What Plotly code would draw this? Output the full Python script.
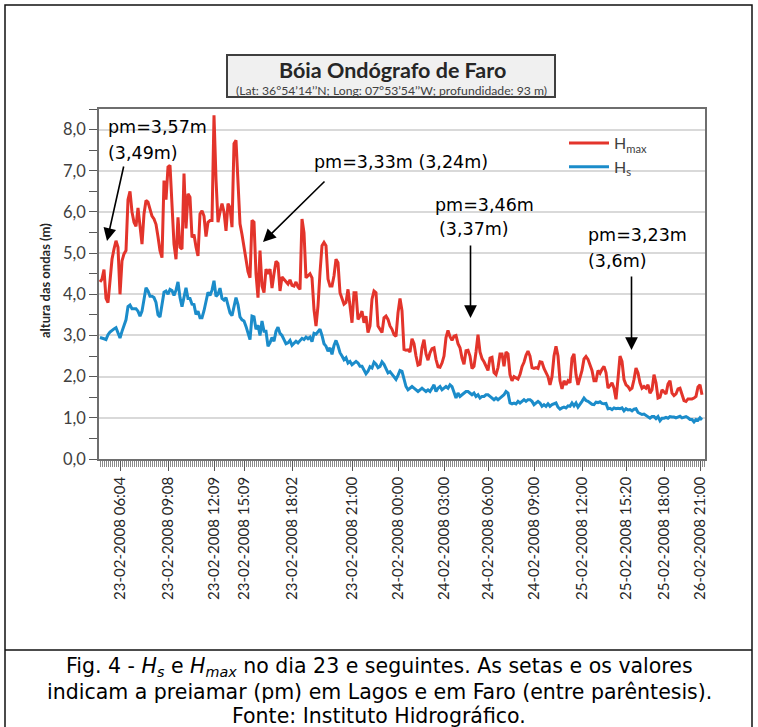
import plotly.graph_objects as go

# ---------------- data ----------------
hmax = [
    4.3, 4.37, 4.6, 3.9, 3.8, 4.4, 4.85, 5.1, 5.3, 5.14,
    4.0, 4.81, 4.98, 5.06, 6.3, 6.5, 6.0, 5.75, 5.65, 6.1,
    5.65, 5.22, 5.95, 6.28, 6.24, 6.03, 5.9, 5.83, 5.7, 5.4,
    5.06, 4.89, 6.76, 6.3, 7.09, 7.13, 6.2, 5.22, 4.85, 5.87,
    5.14, 5.1, 6.93, 5.6, 6.44, 6.36, 5.38, 5.45, 5.15, 4.93,
    5.95, 6.03, 5.9, 5.4, 5.75, 5.79, 5.79, 8.35, 6.8, 5.75,
    6.0, 6.2, 6.0, 5.54, 6.2, 6.11, 5.63, 7.66, 7.74, 6.52,
    5.71, 5.45, 5.15, 4.85,
    4.55, 4.4, 5.8, 5.75, 4.5, 3.92, 5.06, 4.2, 4.04, 4.61,
    4.53, 4.61, 4.15, 4.5, 4.8, 4.75, 4.08, 4.42, 4.36, 4.3,
    4.25, 4.35, 4.22, 4.2, 4.3, 4.18, 4.12, 5.83, 5.5, 4.4,
    4.45, 4.5, 4.4, 3.63, 3.23, 3.72, 4.53, 5.18, 5.26, 5.18,
    4.37, 4.2, 4.2, 4.45, 4.85, 4.77, 4.04, 3.88, 3.76, 3.8,
    4.12, 3.72, 3.31, 4.04, 4.04, 3.39, 3.47, 3.59, 3.31, 3.47,
    3.07, 3.23, 3.88, 4.08, 4.04, 3.23, 3.15, 3.07, 3.43, 3.47,
    3.39, 3.23, 3.15, 3.02, 2.98, 3.55,
    3.9, 3.6, 2.66, 2.64, 2.65, 2.6, 2.92, 2.8, 2.5, 2.28,
    2.3, 2.7, 2.9, 2.55, 2.4, 2.58, 2.68, 2.7, 2.42, 2.24,
    2.23, 2.33, 2.5, 2.95, 3.12, 2.97, 2.88, 2.98, 3.0, 2.8,
    2.7, 2.45, 2.3, 2.63, 2.64, 2.5, 2.2, 2.25, 2.6, 3.02,
    2.6, 2.44, 2.36, 2.25, 2.15, 2.45, 2.47, 2.1, 2.05, 2.22,
    2.55, 2.55, 2.25, 2.6, 2.55, 2.05, 1.9, 2.0, 1.96, 1.94,
    2.05, 2.24, 2.35, 2.52, 2.62, 2.5, 2.22, 2.2, 2.22, 2.2,
    2.36, 2.35, 2.2, 2.08, 2.0, 1.8, 2.0, 2.5, 2.74,
    2.5, 1.9, 1.7, 1.9, 1.8, 1.9, 1.85,
    2.45, 2.55, 2.05, 1.8, 1.95, 2.15, 2.43, 2.49, 2.42, 2.27,
    2.15, 1.9, 1.9, 2.15, 2.08, 2.18, 2.25, 2.1, 1.72, 1.78,
    1.85, 1.72, 1.45, 1.95, 2.5, 2.37, 1.93, 1.8, 1.76, 1.68,
    1.72, 1.93, 2.21, 2.09, 1.85, 1.72, 1.76, 1.72, 1.8, 1.6,
    1.68, 2.05, 1.85, 1.48, 1.5, 1.68, 1.62, 1.58, 1.82, 1.9,
    1.6, 1.54, 1.58, 1.7, 1.72, 1.55, 1.42, 1.4, 1.46, 1.46,
    1.46, 1.48, 1.52, 1.75, 1.8, 1.56,
]

hs = [
    2.95, 2.94, 2.92, 2.9, 3.02, 3.08, 3.13, 3.16, 3.19, 3.07,
    2.94, 3.1, 3.22, 3.38, 3.7, 3.74, 3.65, 3.65, 3.65, 3.59,
    3.47, 3.59, 3.92, 4.16, 4.08, 3.95, 3.95, 3.92, 3.8, 3.5,
    3.45, 3.8, 4.05, 4.08, 4.0, 4.12, 4.09, 3.97, 4.1, 4.3,
    3.92, 3.7, 3.95, 4.16, 3.9, 3.9, 3.76, 3.75, 3.51, 3.59,
    3.43, 3.43, 3.6, 3.85, 4.05, 3.97, 4.1, 4.33, 3.95, 4.0,
    4.15, 3.9, 3.86, 3.92, 3.75, 3.55, 3.48, 3.7, 3.92, 3.75,
    3.45, 3.38, 3.35, 3.22,
    3.07, 2.9, 3.47, 3.45, 3.15, 3.25, 3.0, 3.35, 3.1, 3.1,
    2.74, 2.82, 2.95, 2.86, 3.1, 3.2, 3.05, 3.0, 2.9, 2.8,
    2.82, 2.88, 2.76, 2.8, 2.86, 2.82, 2.88, 2.93, 2.9, 2.96,
    2.92, 2.96, 2.85, 3.05, 3.03, 3.1, 3.15, 3.0, 2.8, 2.74,
    2.62, 2.7, 2.54, 2.76, 2.88, 2.75, 2.58, 2.5, 2.41, 2.46,
    2.33, 2.37, 2.29, 2.33, 2.37, 2.33, 2.25, 2.25, 2.15, 2.07,
    2.13, 2.24, 2.21, 2.35, 2.3, 2.22, 2.25, 2.36, 2.3, 2.17,
    2.09, 2.12, 2.05, 1.98, 1.93, 2.03,
    2.15, 2.13, 1.93, 1.76, 1.68, 1.72, 1.76, 1.72, 1.68, 1.64,
    1.68, 1.72, 1.68, 1.64, 1.68, 1.64, 1.72, 1.8, 1.64, 1.72,
    1.76, 1.68, 1.72, 1.76, 1.72, 1.8, 1.76, 1.6, 1.48, 1.6,
    1.52, 1.56, 1.6, 1.64, 1.64, 1.6, 1.56, 1.6, 1.52, 1.56,
    1.48, 1.52, 1.52, 1.56, 1.56, 1.52, 1.48, 1.44, 1.48, 1.44,
    1.48, 1.52, 1.56, 1.64, 1.6, 1.36, 1.34, 1.36, 1.34, 1.4,
    1.36, 1.4, 1.44, 1.4, 1.44, 1.44, 1.4, 1.32, 1.36, 1.4,
    1.36, 1.28, 1.32, 1.28, 1.34, 1.28, 1.32, 1.34, 1.36,
    1.26, 1.21, 1.24, 1.26, 1.24, 1.29, 1.28,
    1.36, 1.29, 1.36, 1.26, 1.32, 1.4, 1.48, 1.42, 1.4, 1.36,
    1.33, 1.32, 1.38, 1.37, 1.39, 1.35, 1.34, 1.35, 1.22, 1.23,
    1.2, 1.24, 1.22, 1.23, 1.22, 1.24, 1.17, 1.22, 1.19, 1.2,
    1.17, 1.21, 1.22, 1.13, 1.1, 1.08, 1.09, 1.05, 1.03, 0.99,
    1.03, 1.03, 0.98, 1.03, 0.93, 0.99, 0.99, 1.01, 0.99, 1.03,
    1.02, 1.02, 1.0, 1.03, 1.04, 1.0, 1.02, 1.03, 1.0, 0.96,
    0.96, 0.9, 0.96, 0.94, 1.0, 0.95,
]

sample_index = list(range(len(hmax)))

tick_idx = [10, 34, 57, 72, 96, 126, 149, 172, 194, 217, 241, 263, 282, 300]
tick_labels = [
    "23-02-2008 06:04", "23-02-2008 09:08", "23-02-2008 12:09", "23-02-2008 15:09",
    "23-02-2008 18:02", "23-02-2008 21:00", "24-02-2008 00:00", "24-02-2008 03:00",
    "24-02-2008 06:00", "24-02-2008 09:00", "25-02-2008 12:00", "25-02-2008 15:20",
    "25-02-2008 18:00", "26-02-2008 21:00",
]
y_ticks = [0, 1, 2, 3, 4, 5, 6, 7, 8]
series_names = ["H<sub>max</sub>", "H<sub>s</sub>"]

pm_notes = [
    ("pm=3,57m", "(3,49m)"),
    ("pm=3,33m (3,24m)", ""),
    ("pm=3,46m", "(3,37m)"),
    ("pm=3,23m", "(3,6m)"),
]

# ---------------- layout geometry ----------------
W, H = 758, 727
L, R, T, B = 99, 705, 109, 459   # plot area in pixels


def px(x):
    return (x - L) / (R - L)


def py(y):
    return (B - y) / (B - T)


def dx(x):      # pixel -> sample index
    return (x - L) / 2.0 - 0.5


def dy(y):      # pixel -> metres
    return (B - y) / (B - T) * 8.5


RED = "#e3342b"
BLUE = "#1b8cca"
TXT = "#262626"
BASE_FONT = "Lato"

fig = go.Figure()
fig.add_trace(go.Scatter(x=sample_index, y=hmax, mode="lines", name=series_names[0],
                         line=dict(color=RED, width=3)))
fig.add_trace(go.Scatter(x=sample_index, y=hs, mode="lines", name=series_names[1],
                         line=dict(color=BLUE, width=3)))

fig.update_layout(
    width=W, height=H,
    margin=dict(l=L, r=W - R, t=T, b=H - B, autoexpand=False),
    paper_bgcolor="white", plot_bgcolor="white",
    separators=",.",
    font=dict(family=BASE_FONT, color=TXT),
    showlegend=True,
    legend=dict(x=px(564), y=py(126), xanchor="left", yanchor="top",
                bgcolor="rgba(0,0,0,0)", font=dict(family=BASE_FONT, size=16, color="#404040"),
                tracegroupgap=0, itemwidth=40),
)

fig.update_xaxes(
    range=[-0.5, len(hmax) + 0.5],
    tickmode="array", tickvals=tick_idx, ticktext=tick_labels,
    tickangle=-90, ticks="outside", ticklen=10, tickwidth=1, tickcolor="#595959",
    tickfont=dict(family=BASE_FONT, size=15, color=TXT),
    showgrid=False, zeroline=False,
    showline=True, linecolor="#6e6e6e", linewidth=1.5, mirror=True,
    minor=dict(tickmode="linear", tick0=0, dtick=1, ticks="outside", ticklen=6,
               tickwidth=1, tickcolor="#8a8a8a", showgrid=False),
)
fig.update_yaxes(
    range=[0, 8.5],
    tickmode="array", tickvals=y_ticks, tickformat=".1f",
    ticks="outside", ticklen=8, tickwidth=1.2, tickcolor="#595959",
    tickfont=dict(family=BASE_FONT, size=16.5, color="#404040"),
    showgrid=True, gridcolor="#d9d9d9", gridwidth=1.5, zeroline=False,
    showline=True, linecolor="#6e6e6e", linewidth=1.5, mirror=True,
    minor=dict(tickmode="linear", tick0=0, dtick=0.5, ticks="outside", ticklen=8,
               tickwidth=1.2, tickcolor="#595959", showgrid=False),
)

shapes = []
shapes.append(dict(type="rect", xref="paper", yref="paper",
                   x0=px(5), x1=px(752), y0=py(745), y1=py(5),
                   line=dict(color="#111111", width=1.5), layer="below"))
shapes.append(dict(type="line", xref="paper", yref="paper",
                   x0=px(5), x1=px(752), y0=py(650), y1=py(650),
                   line=dict(color="#111111", width=1.5)))
shapes.append(dict(type="rect", xref="paper", yref="paper",
                   x0=px(227), x1=px(555), y0=py(97), y1=py(55),
                   fillcolor="#f0f0f0", line=dict(color="#3f3f3f", width=2)))

annotations = []


def label(x, y, text, font, **kw):
    d = dict(xref="paper", yref="paper", x=px(x), y=py(y), text=text, showarrow=False,
             font=font, xanchor="center", yanchor="middle")
    d.update(kw)
    annotations.append(d)


label(392, 70, "<b>Bóia Ondógrafo de Faro</b>", dict(family=BASE_FONT, size=21.5, color=TXT))
label(391, 90.5, "(Lat: 36°54’14’’N; Long: 07°53’54’’W; profundidade: 93 m)",
      dict(family=BASE_FONT, size=12.2, color="#404040"))
label(45, 281, "<b>altura das ondas (m)</b>", dict(family=BASE_FONT, size=13, color=TXT),
      textangle=-90)

NOTE_FONT = dict(family="DejaVu Sans", size=17.5, color="black")
note_pos = [((106, 127), (106, 153)), ((312, 162), None), ((433, 205), (437, 229)),
            ((586, 235), (586, 261))]
for (t1, t2), (p1, p2) in zip(pm_notes, note_pos):
    annotations.append(dict(xref="x", yref="y", x=dx(p1[0]), y=dy(p1[1]), xanchor="left",
                            yanchor="middle", text=t1, showarrow=False, font=NOTE_FONT))
    if p2 is not None and t2:
        annotations.append(dict(xref="x", yref="y", x=dx(p2[0]), y=dy(p2[1]), xanchor="left",
                                yanchor="middle", text=t2, showarrow=False, font=NOTE_FONT))

arrows = [((124, 165), (107, 241)), ((326, 180), (263, 242)),
          ((470.5, 244), (470.5, 318)), ((631.5, 275), (631.5, 350))]
for (tx, ty), (hx, hy) in arrows:
    annotations.append(dict(xref="x", yref="y", axref="x", ayref="y",
                            x=dx(hx), y=dy(hy), ax=dx(tx), ay=dy(ty), text="",
                            showarrow=True, arrowhead=2, arrowsize=1.6, arrowwidth=1.6,
                            arrowcolor="black", standoff=0, startstandoff=0))

CAP_FONT = dict(family="DejaVu Sans", size=20.5, color="black")
caption = [
    "Fig. 4 - <i>H<sub>s</sub></i> e <i>H<sub>max</sub></i> no dia 23 e seguintes. As setas e os valores",
    "indicam a preiamar (pm) em Lagos e em Faro (entre parêntesis).",
    "Fonte: Instituto Hidrográfico.",
]
for line, yy in zip(caption, [667, 692, 716]):
    label(379, yy, line, CAP_FONT)

fig.update_layout(shapes=shapes, annotations=annotations)
# remove the page's default body margin so the figure sits at the window origin
fig.write_html("out.html",
               config={"displayModeBar": False},
               post_script="document.body.style.margin='0';document.body.style.overflow='hidden';")
